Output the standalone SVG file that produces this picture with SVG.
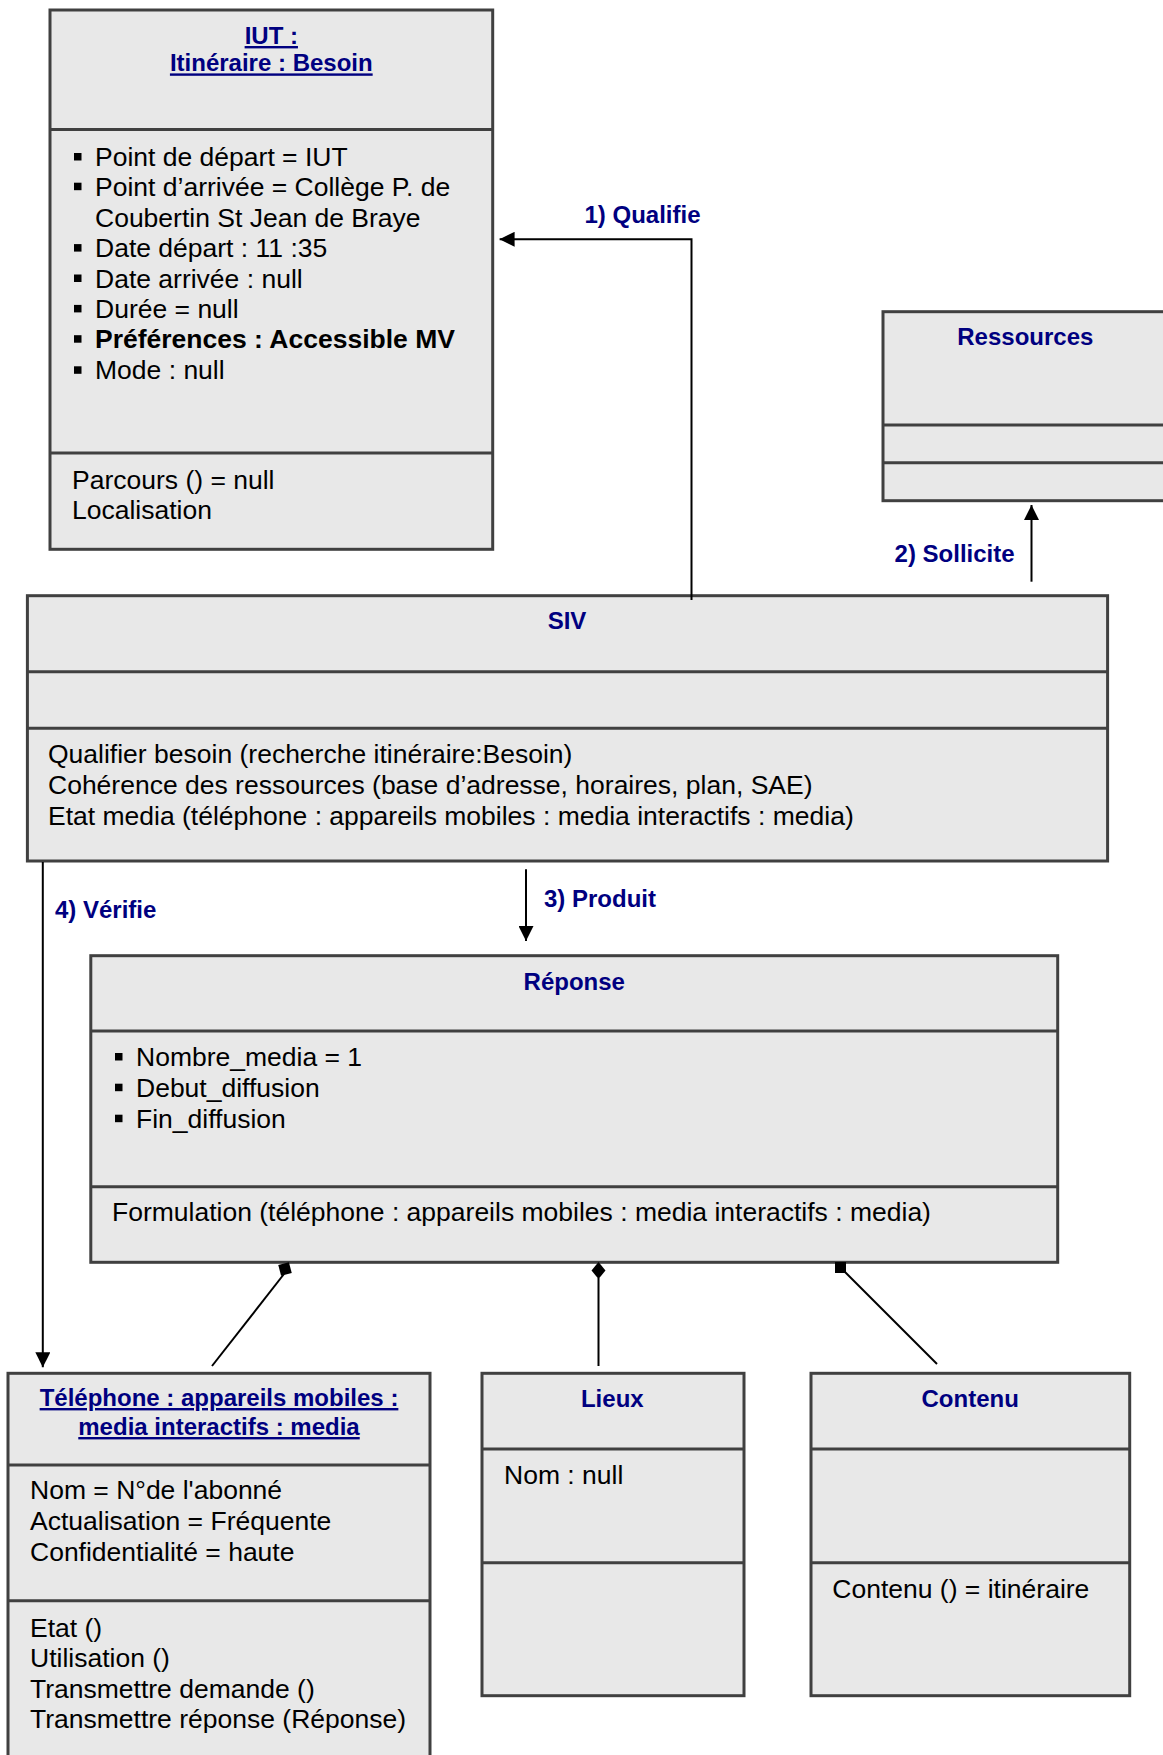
<svg xmlns="http://www.w3.org/2000/svg" width="1163" height="1755" viewBox="0 0 1163 1755">
<defs>
<style>
.box{fill:#e8e8e8;stroke:#404040;stroke-width:3}
.div{stroke:#404040;stroke-width:3;fill:none}
.title{font-family:"Liberation Sans",Arial,sans-serif;font-size:24px;font-weight:bold;fill:#000080;text-anchor:middle}
.ul{text-decoration:underline}
.txt{font-family:"Liberation Sans",Arial,sans-serif;font-size:26.5px;fill:#000}
.b{font-weight:bold}
.lbl{font-family:"Liberation Sans",Arial,sans-serif;font-size:24px;font-weight:bold;fill:#000080}
.con{stroke:#000;stroke-width:2;fill:none}
.bul{fill:#000}
</style>
<marker id="arr" viewBox="0 0 15 15" refX="15" refY="7.5" markerWidth="15" markerHeight="15" markerUnits="userSpaceOnUse" orient="auto">
<path d="M0,0 L15,7.5 L0,15 z" fill="#000"/>
</marker>
</defs>
<rect width="1163" height="1755" fill="#fff"/>

<g id="iut">
<rect class="box" x="50" y="10" width="442.7" height="539.3"/>
<line class="div" x1="50" y1="129.6" x2="492.7" y2="129.6"/>
<line class="div" x1="50" y1="452.9" x2="492.7" y2="452.9"/>
<text class="title ul" x="271.3" y="44">IUT :</text>
<text class="title ul" x="271.3" y="71.4">Itinéraire : Besoin</text>
<g class="bul">
<rect x="74" y="153" width="7.5" height="7.5"/>
<rect x="74" y="182.7" width="7.5" height="7.5"/>
<rect x="74" y="244.1" width="7.5" height="7.5"/>
<rect x="74" y="274.5" width="7.5" height="7.5"/>
<rect x="74" y="304.9" width="7.5" height="7.5"/>
<rect x="74" y="335.2" width="7.5" height="7.5"/>
<rect x="74" y="366.3" width="7.5" height="7.5"/>
</g>
<text class="txt" x="95" y="166">Point de départ = IUT</text>
<text class="txt" x="95" y="195.7">Point d’arrivée = Collège P. de</text>
<text class="txt" x="95" y="226.8">Coubertin St Jean de Braye</text>
<text class="txt" x="95" y="257.1">Date départ : 11 :35</text>
<text class="txt" x="95" y="287.5">Date arrivée : null</text>
<text class="txt" x="95" y="317.9">Durée = null</text>
<text class="txt b" x="95" y="348.2">Préférences : Accessible MV</text>
<text class="txt" x="95" y="379.3">Mode : null</text>
<text class="txt" x="72" y="488.6">Parcours () = null</text>
<text class="txt" x="72" y="519">Localisation</text>
</g>

<g id="ressources">
<rect class="box" x="883" y="311.7" width="290" height="189"/>
<line class="div" x1="883" y1="425" x2="1173" y2="425"/>
<line class="div" x1="883" y1="462.7" x2="1173" y2="462.7"/>
<text class="title" x="1025.3" y="345">Ressources</text>
</g>

<g id="siv">
<rect class="box" x="27.4" y="595.7" width="1080.2" height="265.3"/>
<line class="div" x1="27.4" y1="671.7" x2="1107.6" y2="671.7"/>
<line class="div" x1="27.4" y1="728.3" x2="1107.6" y2="728.3"/>
<text class="title" x="567" y="629.3">SIV</text>
<text class="txt" x="48" y="763.3">Qualifier besoin (recherche itinéraire:Besoin)</text>
<text class="txt" x="48" y="794.3">Cohérence des ressources (base d’adresse, horaires, plan, SAE)</text>
<text class="txt" x="48" y="825">Etat media (téléphone : appareils mobiles : media interactifs : media)</text>
</g>

<g id="reponse">
<rect class="box" x="90.8" y="955.7" width="966.9" height="306.6"/>
<line class="div" x1="90.8" y1="1031" x2="1057.7" y2="1031"/>
<line class="div" x1="90.8" y1="1186.7" x2="1057.7" y2="1186.7"/>
<text class="title" x="574.3" y="990">Réponse</text>
<g class="bul">
<rect x="115" y="1053" width="7.5" height="7.5"/>
<rect x="115" y="1083.7" width="7.5" height="7.5"/>
<rect x="115" y="1114.7" width="7.5" height="7.5"/>
</g>
<text class="txt" x="136" y="1066">Nombre_media = 1</text>
<text class="txt" x="136" y="1096.7">Debut_diffusion</text>
<text class="txt" x="136" y="1127.7">Fin_diffusion</text>
<text class="txt" x="112" y="1221">Formulation (téléphone : appareils mobiles : media interactifs : media)</text>
</g>

<g id="telephone">
<rect class="box" x="8" y="1373.3" width="422" height="400"/>
<line class="div" x1="8" y1="1465" x2="430" y2="1465"/>
<line class="div" x1="8" y1="1600.7" x2="430" y2="1600.7"/>
<text class="title ul" x="219" y="1406">Téléphone : appareils mobiles :</text>
<text class="title ul" x="219" y="1435">media interactifs : media</text>
<text class="txt" x="30" y="1499.3">Nom = N°de l'abonné</text>
<text class="txt" x="30" y="1530">Actualisation = Fréquente</text>
<text class="txt" x="30" y="1560.7">Confidentialité = haute</text>
<text class="txt" x="30" y="1636.7">Etat ()</text>
<text class="txt" x="30" y="1667.3">Utilisation ()</text>
<text class="txt" x="30" y="1697.7">Transmettre demande ()</text>
<text class="txt" x="30" y="1728.3">Transmettre réponse (Réponse)</text>
</g>

<g id="lieux">
<rect class="box" x="482" y="1373.3" width="262" height="322.4"/>
<line class="div" x1="482" y1="1449" x2="744" y2="1449"/>
<line class="div" x1="482" y1="1562.7" x2="744" y2="1562.7"/>
<text class="title" x="612.3" y="1407.3">Lieux</text>
<text class="txt" x="504" y="1484.3">Nom : null</text>
</g>

<g id="contenu">
<rect class="box" x="811" y="1373.3" width="318.7" height="322.4"/>
<line class="div" x1="811" y1="1449" x2="1129.7" y2="1449"/>
<line class="div" x1="811" y1="1562.7" x2="1129.7" y2="1562.7"/>
<text class="title" x="970.2" y="1407.3">Contenu</text>
<text class="txt" x="832.3" y="1598.3">Contenu () = itinéraire</text>
</g>

<g id="connectors">
<path class="con" d="M691.5,600 V239.3 H499.6" marker-end="url(#arr)"/>
<text class="lbl" x="584.5" y="222.7">1) Qualifie</text>
<path class="con" d="M1031.5,581.7 V505" marker-end="url(#arr)"/>
<text class="lbl" x="894.6" y="561.7">2) Sollicite</text>
<path class="con" d="M526,869.3 V941" marker-end="url(#arr)"/>
<text class="lbl" x="544" y="906.7">3) Produit</text>
<path class="con" d="M42.8,862 V1367.3" marker-end="url(#arr)"/>
<text class="lbl" x="55" y="918.3">4) Vérifie</text>
<path class="con" d="M284,1274 L212,1366"/>
<rect x="279.5" y="1263.5" width="11" height="11" fill="#000" transform="rotate(-15 285 1269)"/>
<path class="con" d="M598.5,1278 V1366"/>
<path d="M598.5,1262 L605.5,1270.5 L598.5,1279 L591.5,1270.5 z" fill="#000"/>
<path class="con" d="M845,1272 L937,1364"/>
<rect x="835" y="1262" width="11" height="11" fill="#000"/>
</g>
</svg>
